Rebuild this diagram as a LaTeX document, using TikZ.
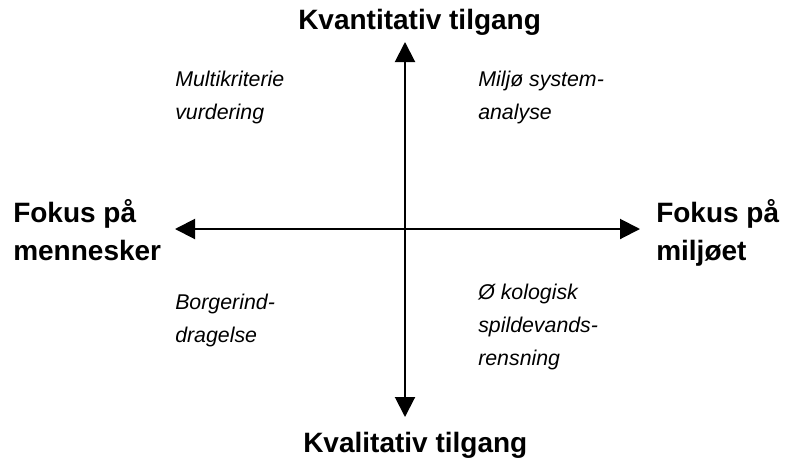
\documentclass[tikz,border=0pt]{standalone}
\usepackage{fontspec}
\setmainfont{Liberation Sans}
\usetikzlibrary{arrows.meta}
\begin{document}
\begin{tikzpicture}[x=0.75pt,y=-0.75pt,
  axis/.style={line width=1.5pt,{Triangle[length=15pt,width=15pt]}-{Triangle[length=15pt,width=15pt]}},
  axislabel/.style={font=\fontsize{21}{28}\selectfont\bfseries,inner sep=0pt,anchor=base west,align=left},
  method/.style={font=\fontsize{16}{24.75}\selectfont\itshape,inner sep=0pt,anchor=base west,align=left}]
  \useasboundingbox[fill=white] (0,0) rectangle (788,465);
  % axis end points
  \coordinate (top) at (405,42);
  \coordinate (bottom) at (405,417);
  \coordinate (left) at (175,229);
  \coordinate (right) at (640,229);
  \draw[axis] (bottom) -- (top);
  \draw[axis] (left) -- (right);
  % axis labels (base anchor sits on the last line)
  \node[axislabel] (quant) at (298,29) {Kvantitativ tilgang};
  \node[axislabel] (qual) at (303,452) {Kvalitativ tilgang};
  \node[axislabel] (people) at (13,260) {Fokus på\\mennesker};
  \node[axislabel] (env) at (656,260) {Fokus på\\miljøet};
  % methods in the quadrants
  \node[method] (mcda) at (175,119) {Multikriterie\\vurdering};
  \node[method] (esa) at (478,119) {Miljø system-\\analyse};
  \node[method] (citizen) at (175,342) {Borgerind-\\dragelse};
  \node[method] (eco) at (478,365) {Ø kologisk\\spildevands-\\rensning};
\end{tikzpicture}
\end{document}
